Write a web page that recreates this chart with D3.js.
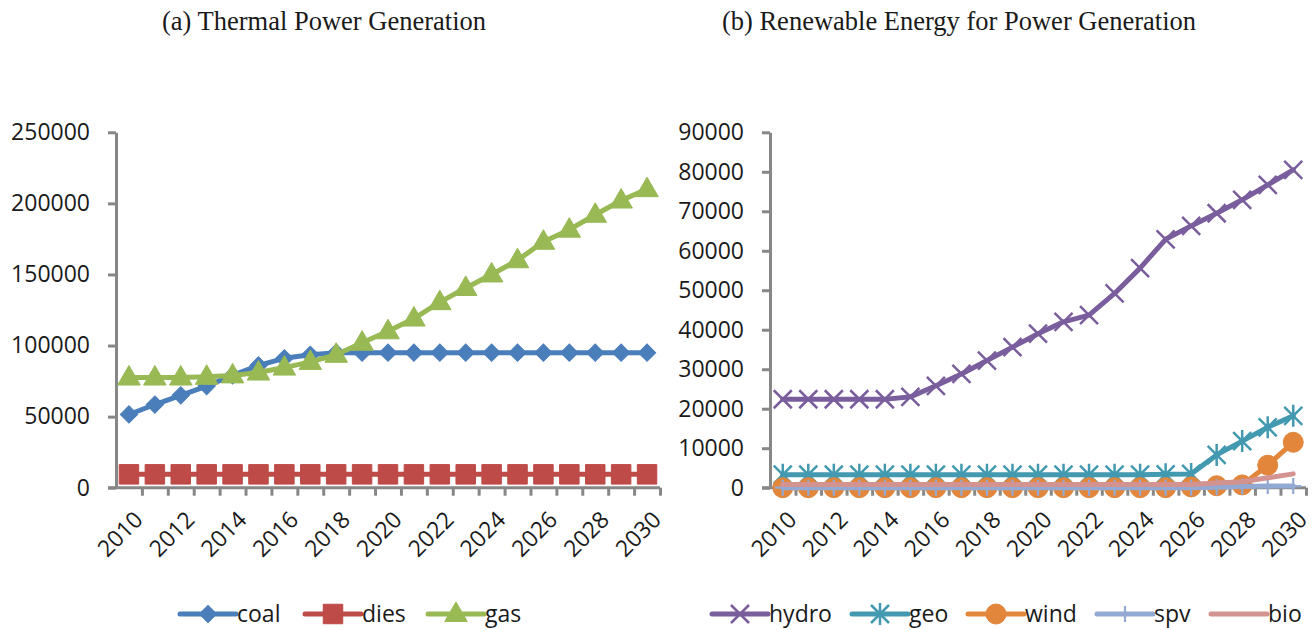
<!DOCTYPE html>
<html>
<head>
<meta charset="utf-8">
<script src="https://cdn.jsdelivr.net/npm/d3@7"></script>
<style>
  html, body { margin: 0; padding: 0; background: #fff; }
  svg text { font-family: "Open Sans", "Liberation Sans", sans-serif; fill: #1a1a1a; }
  svg text.title { font-family: "Liberation Serif", "Times New Roman", serif; }
</style>
</head>
<body>
<svg id="chart" width="1316" height="630"></svg>
<script>
// Years on the category axis
const years = d3.range(2010, 2031);

// (a) Thermal power generation
const coal = [51500, 58500, 65000, 71500, 79000, 86000, 91000, 93500, 95000, 95000, 95000,
              95000, 95000, 95000, 95000, 95000, 95000, 95000, 95000, 95000, 95000];
const dies = [9400, 9400, 9400, 9400, 9400, 9400, 9400, 9400, 9400, 9400, 9400,
              9400, 9400, 9400, 9400, 9400, 9400, 9400, 9400, 9400, 9400];
const gas  = [77500, 77500, 77500, 78000, 79000, 81000, 84500, 88500, 93500, 102000, 110000,
              119000, 130500, 140500, 150000, 160000, 173000, 181500, 192000, 202000, 210000];

// (b) Renewable energy for power generation
const hydro = [22400, 22400, 22400, 22400, 22400, 23000, 25800, 28800, 32200, 35600, 39000,
               42000, 43700, 49200, 55600, 62900, 66300, 69500, 72900, 76700, 80500];
const geo   = [3300, 3300, 3300, 3300, 3300, 3300, 3300, 3300, 3300, 3300, 3300,
               3300, 3300, 3300, 3300, 3400, 3500, 8300, 11800, 15300, 18200];
const wind  = [0, 0, 0, 0, 0, 0, 0, 0, 0, 0, 0,
               0, 0, 0, 0, 0, 200, 500, 700, 5700, 11500];
const spv   = [0, 0, 0, 0, 0, 0, 0, 0, 0, 0, 0,
               0, 0, 0, 0, 0, 0, 100, 300, 400, 400];
const bio   = [800, 800, 800, 800, 800, 800, 800, 800, 800, 800, 800,
               800, 800, 800, 800, 800, 800, 1200, 1500, 2500, 3500];

// Tick values
const thermalTicks   = [0, 50000, 100000, 150000, 200000, 250000];
const renewableTicks = [0, 10000, 20000, 30000, 40000, 50000, 60000, 70000, 80000, 90000];
const yearLabels     = [2010, 2012, 2014, 2016, 2018, 2020, 2022, 2024, 2026, 2028, 2030];

const svg = d3.select("#chart");
const axisColor = "#878787";

// Marker shapes, drawn around (0,0)
const markers = {
  diamond: g => g.append("path").attr("d", d3.symbol(d3.symbolSquare, 150)()).attr("transform", "rotate(45)"),
  square: g => g.append("path").attr("d", d3.symbol(d3.symbolSquare, 380)()),
  triangle: g => g.append("path").attr("d", d3.symbol(d3.symbolTriangle, 220)()).attr("transform", "translate(0,1)"),
  x: g => g.append("path").attr("d", "M-9,-9L9,9M-9,9L9,-9").attr("fill", "none").attr("stroke-width", 2.5),
  asterisk: g => g.append("path").attr("d", "M-9,-9L9,9M-9,9L9,-9M0,-11L0,11").attr("fill", "none").attr("stroke-width", 2.5),
  circle: g => g.append("circle").attr("r", 10),
  plus: g => g.append("path").attr("d", "M0,-8L0,8M-8,0L8,0").attr("fill", "none").attr("stroke-width", 2.2),
  none: g => g
};

function drawPanel(cfg) {
  const g = svg.append("g");
  const x = d3.scaleLinear().domain([0, years.length]).range([cfg.x0, cfg.x1]);
  const y = d3.scaleLinear().domain([0, cfg.yMax]).range([cfg.yBottom, cfg.yTop]);

  // Title
  svg.append("text").attr("class", "title")
    .attr("x", cfg.titleX).attr("y", 30)
    .attr("text-anchor", "middle")
    .style("font-size", "26.5px")
    .text(cfg.title);

  // Y axis
  const yAxis = g.append("g")
    .attr("transform", `translate(${cfg.x0},0)`)
    .call(d3.axisLeft(y).tickValues(cfg.ticks).tickSize(8).tickSizeOuter(0).tickPadding(18).tickFormat(d3.format("d")));
  yAxis.select(".domain").attr("stroke", axisColor).attr("stroke-width", 3);
  yAxis.selectAll(".tick line").attr("stroke", axisColor).attr("stroke-width", 3);
  yAxis.selectAll(".tick text").style("font-size", "23px").attr("fill", "#1a1a1a")
    .attr("font-family", null);

  // X axis: ticks sit on category boundaries
  const xAxis = g.append("g")
    .attr("transform", `translate(0,${cfg.yBottom})`)
    .call(d3.axisBottom(x).tickValues(d3.range(1, years.length + 1)).tickSize(8).tickSizeOuter(0).tickFormat(""));
  xAxis.select(".domain").attr("stroke", axisColor).attr("stroke-width", 3)
    .attr("d", `M${cfg.x0 - 8},0H${cfg.x1}`);
  xAxis.selectAll(".tick line").attr("stroke", axisColor).attr("stroke-width", 3);

  // Year labels at the category centres
  g.selectAll(".year").data(yearLabels).join("text")
    .attr("class", "year")
    .attr("transform", d => `translate(${x(years.indexOf(d) + 0.5) + 4},${cfg.yBottom + 22}) rotate(-45)`)
    .attr("text-anchor", "end")
    .attr("dy", "0.7em")
    .style("font-size", "23px")
    .text(d => d);

  const line = d3.line().x((d, i) => x(i + 0.5)).y(d => y(d));

  cfg.series.forEach(s => {
    g.append("path").datum(s.values)
      .attr("d", line)
      .attr("fill", "none")
      .attr("stroke", s.color)
      .attr("stroke-width", 5)
      .attr("stroke-linejoin", "round")
      .attr("stroke-linecap", "round");
    const m = g.append("g").attr("fill", s.color).attr("stroke", s.color);
    s.values.forEach((v, i) => {
      const mg = m.append("g").attr("transform", `translate(${x(i + 0.5)},${y(v)})`);
      markers[s.marker](mg);
    });
  });

  // Legend
  const lg = svg.append("g").attr("transform", `translate(0,614)`);
  cfg.series.forEach((s, i) => {
    const lx = cfg.legendX[i];
    lg.append("line").attr("x1", lx).attr("x2", lx + 56).attr("y1", 0).attr("y2", 0)
      .attr("stroke", s.color).attr("stroke-width", 5).attr("stroke-linecap", "round");
    const mg = lg.append("g").attr("transform", `translate(${lx + 28},0)`)
      .attr("fill", s.color).attr("stroke", s.color);
    markers[s.marker](mg);
    lg.append("text").attr("x", lx + 57).attr("y", 0).attr("dy", "0.35em")
      .style("font-size", "23px").text(s.name);
  });
}

drawPanel({
  title: "(a) Thermal Power Generation", titleX: 324,
  x0: 116, x1: 660, yTop: 132.3, yBottom: 487.7, yMax: 250000, ticks: thermalTicks,
  legendX: [180, 305, 428],
  series: [
    { name: "coal", values: coal, color: "#4A7EBB", marker: "diamond" },
    { name: "dies", values: dies, color: "#BE4B48", marker: "square" },
    { name: "gas",  values: gas,  color: "#98B954", marker: "triangle" }
  ]
});

drawPanel({
  title: "(b) Renewable Energy for Power Generation", titleX: 959,
  x0: 770, x1: 1306, yTop: 132.3, yBottom: 487.7, yMax: 90000, ticks: renewableTicks,
  legendX: [712, 852, 968, 1097, 1211],
  series: [
    { name: "hydro", values: hydro, color: "#7A5D9D", marker: "x" },
    { name: "geo",   values: geo,   color: "#4299B0", marker: "asterisk" },
    { name: "wind",  values: wind,  color: "#E2863B", marker: "circle" },
    { name: "spv",   values: spv,   color: "#92AAD3", marker: "plus" },
    { name: "bio",   values: bio,   color: "#D39391", marker: "none" }
  ]
});
</script>
</body>
</html>
